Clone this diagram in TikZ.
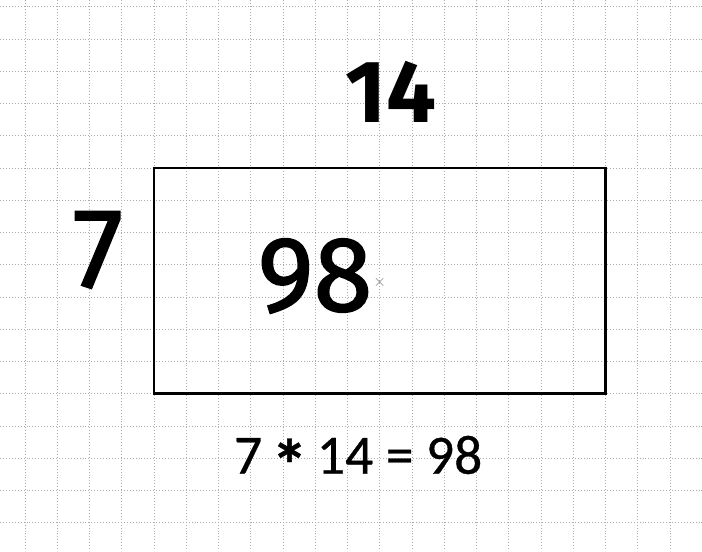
\documentclass[tikz,border=0pt]{standalone}
\usepackage{fontspec}
\newfontfamily\handfont{Fira Sans}
\newfontfamily\handthick[FakeBold=1.6]{Fira Sans}
\newfontfamily\calcfont[FakeBold=0.6]{Carlito}
\begin{document}
\begin{tikzpicture}[gridline/.style={gray!65,dotted,line width=0.6pt},
    bignum/.style={font=\handthick\fontsize{94}{94}\selectfont,inner sep=0pt}]
        \useasboundingbox[fill=white](-0.775,0.208)rectangle(20.99,-16.88);
        \foreach \x in {0,...,20} \draw[gridline] (\x,0.208) -- (\x,-16.88);
        \foreach \y in {0,...,16} \draw[gridline] (-0.775,-\y) -- (20.99,-\y);
        \node[draw,line width=2.6pt,minimum width=14cm,minimum height=7cm,inner sep=0pt](box)at(11,-8.5){};
        \node[font=\handfont\bfseries\fontsize{78}{78}\selectfont,inner sep=0pt](top)at(11.35,-2.64){14};
        \node[bignum,font=\handthick\fontsize{100}{100}\selectfont](left)at(2.26,-7.54){7};
        \node[bignum](area)at(8.99,-8.35){98};
        \node[text=gray,font=\fontsize{14}{14}\selectfont,inner sep=0pt](mark)at(11.0,-8.54){$\times$};
        \node[font=\calcfont\fontsize{49}{49}\selectfont,inner sep=0pt](eq)at(10.33,-14.15){7\,\raisebox{-0.3em}{\fontsize{64}{64}\selectfont\bfseries *}\,14 = 98};
    \end{tikzpicture}
\end{document}
